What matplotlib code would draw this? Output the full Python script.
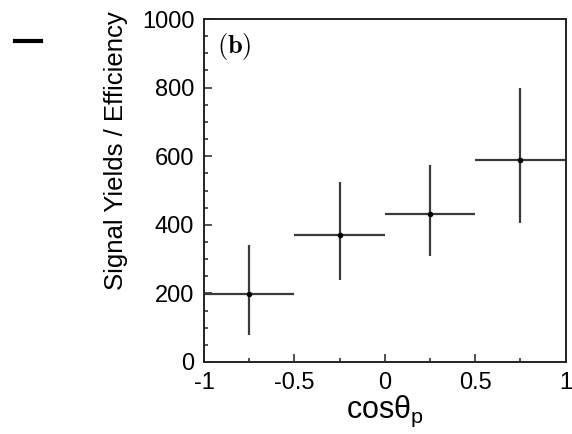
import matplotlib
matplotlib.use("Agg")
import matplotlib.pyplot as plt
from matplotlib.ticker import MultipleLocator
from matplotlib.lines import Line2D

# Data
x_centers = [-0.75, -0.25, 0.25, 0.75]
x_halfwidth = [0.25, 0.25, 0.25, 0.25]
yields = [198, 370, 432, 590]
err_low = [120, 132, 122, 186]
err_high = [143, 155, 143, 210]
x_ticks = [-1, -0.5, 0, 0.5, 1]
x_ticklabels = ['-1', '-0.5', '0', '0.5', '1']

plt.rcParams['font.family'] = ['Liberation Sans', 'DejaVu Sans']
plt.rcParams['mathtext.fontset'] = 'custom'
plt.rcParams['mathtext.rm'] = 'Liberation Sans'
plt.rcParams['mathtext.it'] = 'Liberation Sans'

fig = plt.figure(figsize=(5.72, 4.34), dpi=100)
ax = fig.add_axes([204/572, (434-362)/434, (565.5-204)/572, (362-19)/434])

ax.errorbar(x_centers, yields, xerr=x_halfwidth, yerr=[err_low, err_high],
            fmt='o', color='black', ecolor='#3a3a3a', elinewidth=1.6,
            markersize=3, capsize=0)

ax.set_xlim(-1, 1)
ax.set_ylim(0, 1000)
ax.xaxis.set_minor_locator(MultipleLocator(0.25))
ax.yaxis.set_major_locator(MultipleLocator(200))
ax.yaxis.set_minor_locator(MultipleLocator(50))
ax.set_xticks(x_ticks)
ax.set_xticklabels(x_ticklabels)
ax.tick_params(which='both', direction='in', top=False, right=False,
               labelsize=17, width=1.2, color='#333333')
ax.tick_params(which='major', length=6, pad=7)
ax.tick_params(which='minor', length=3)
for sp in ax.spines.values():
    sp.set_linewidth(1.4)
    sp.set_color('#222222')

ax.set_ylabel('Signal Yields / Efficiency', fontsize=18.5)
ax.yaxis.set_label_coords(-0.21, 0.615)
ax.set_xlabel(r'cos$\theta_{p}$', fontsize=22, labelpad=0)

ax.text(0.036, 0.965, r'$\mathbf{(b)}$', transform=ax.transAxes,
        fontsize=19, math_fontfamily='cm', va='top', ha='left')

fig.add_artist(Line2D([15/572, 41/572], [(434-41)/434, (434-41)/434],
                      transform=fig.transFigure, color='black', lw=3))

fig.savefig('out.png', dpi=100)
